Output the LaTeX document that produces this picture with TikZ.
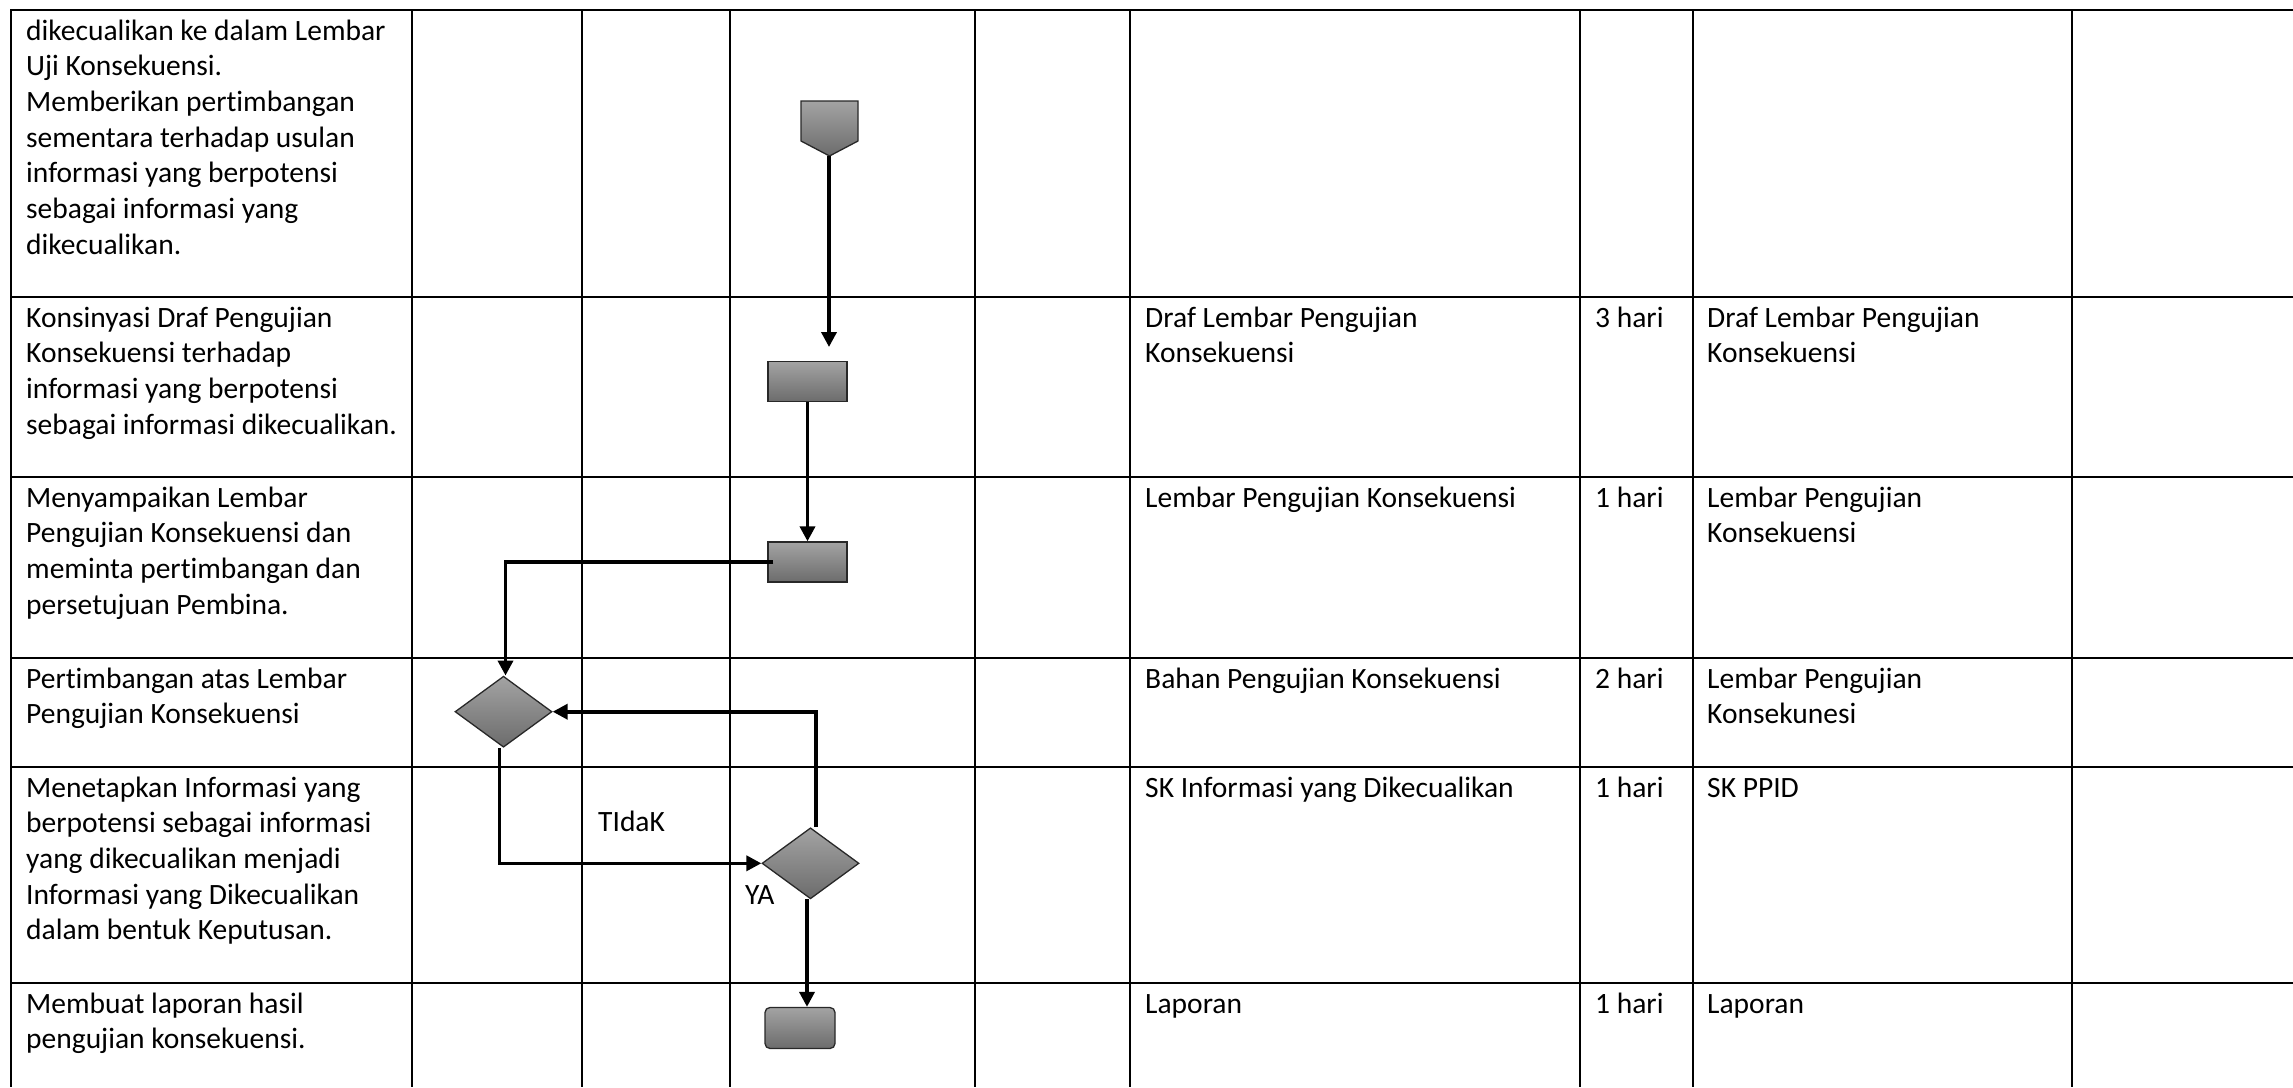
\documentclass[tikz,border=0pt]{standalone}
\usepackage{fontspec}
\setmainfont{Carlito}[Ligatures={NoCommon}]
\usetikzlibrary{shapes.geometric,arrows.meta}
\definecolor{shtop}{RGB}{163,163,163}
\definecolor{shbot}{RGB}{108,108,108}
\definecolor{shedge}{RGB}{40,40,40}
\newcommand{\celltext}[1]{\parbox[t]{700pt}{\fontsize{29.5}{35.7}\selectfont\raggedright #1}}
\begin{document}
\begin{tikzpicture}[x=1pt,y=-1pt,
  gridline/.style={line width=2.3pt,black},
  conn/.style={line width=3.6pt,black,-{Triangle[length=15pt,width=15pt]}},
  shp/.style={draw=shedge,line width=1.3pt,top color=shtop,bottom color=shbot,inner sep=0pt},
  proc/.style={shp,rectangle,minimum width=79pt,minimum height=40pt},
  dec/.style={shp,diamond,minimum width=97pt,minimum height=71pt},
  term/.style={shp,rectangle,rounded corners=5pt,minimum width=70pt,minimum height=41pt},
  cell/.style={anchor=base west,inner sep=0pt},
  lbl/.style={anchor=base west,inner sep=0pt,font=\fontsize{29.5}{35.7}\selectfont},
  ]
\useasboundingbox (0,0) rectangle (2293,1087);
\fill[white] (0,0) rectangle (2293,1087);
% grid
\foreach \yy in {10,297,477,658,767,983}
  \draw[gridline] (10,\yy) -- (2293,\yy);
\foreach \xx in {11,412,582,730,975,1130,1580,1693,2072}
  \draw[gridline] (\xx,9) -- (\xx,1087);

% shapes
\path[shp] (801,101) -- (858,101) -- (858,141) -- (829.5,156) -- (801,141) -- cycle;
\coordinate (pentpt) at (829,156);
\coordinate (a1end) at (829,347);
\node[proc] (r1) at (807.5,381.5) {};
\node[proc] (r2) at (807.5,562) {};
\node[dec] (d1) at (503.5,711.7) {};
\node[dec] (d2) at (810.5,863.3) {};
\node[term] (rr) at (800,1028) {};

% connectors
\draw[conn] (pentpt) -- (a1end);
\draw[conn] (r1.south) -- (r2.north);
\draw[conn] ([xshift=6pt]r2.west) -| ([xshift=2pt]d1.north);
\draw[conn] ([xshift=-4pt]d1.south) |- (d2.west);
\draw[conn] ([xshift=5.5pt]d2.north) |- (d1.east);
\draw[conn] ([xshift=-3.5pt]d2.south) -- ([xshift=-3.5pt]d2.south |- rr.north);

\node[lbl] (tidak) at (598,831.7) {TIdaK};
\node[lbl] (ya) at (745,904) {YA};

% column 1
\node[cell] (c1r1) at (26,40) {\celltext{dikecualikan ke dalam Lembar\\Uji Konsekuensi.\\Memberikan pertimbangan\\sementara terhadap usulan\\informasi yang berpotensi\\sebagai informasi yang\\dikecualikan.}};
\node[cell] (c1r2) at (26,327) {\celltext{Konsinyasi Draf Pengujian\\Konsekuensi terhadap\\informasi yang berpotensi\\sebagai informasi dikecualikan.}};
\node[cell] (c1r3) at (26,507) {\celltext{Menyampaikan Lembar\\Pengujian Konsekuensi dan\\meminta pertimbangan dan\\persetujuan Pembina.}};
\node[cell] (c1r4) at (26,688) {\celltext{Pertimbangan atas Lembar\\Pengujian Konsekuensi}};
\node[cell] (c1r5) at (26,797) {\celltext{Menetapkan Informasi yang\\berpotensi sebagai informasi\\yang dikecualikan menjadi\\Informasi yang Dikecualikan\\dalam bentuk Keputusan.}};
\node[cell] (c1r6) at (26,1013) {\celltext{Membuat laporan hasil\\pengujian konsekuensi.}};

% column 6
\node[cell] (c6r2) at (1145,327) {\celltext{Draf Lembar Pengujian\\Konsekuensi}};
\node[cell] (c6r3) at (1145,507) {\celltext{Lembar Pengujian Konsekuensi}};
\node[cell] (c6r4) at (1145,688) {\celltext{Bahan Pengujian Konsekuensi}};
\node[cell] (c6r5) at (1145,797) {\celltext{SK Informasi yang Dikecualikan}};
\node[cell] (c6r6) at (1145,1013) {\celltext{Laporan}};

% column 7
\node[cell] (c7r2) at (1595,327) {\celltext{3 hari}};
\node[cell] (c7r3) at (1595,507) {\celltext{1 hari}};
\node[cell] (c7r4) at (1595,688) {\celltext{2 hari}};
\node[cell] (c7r5) at (1595,797) {\celltext{1 hari}};
\node[cell] (c7r6) at (1595,1013) {\celltext{1 hari}};

% column 8
\node[cell] (c8r2) at (1707,327) {\celltext{Draf Lembar Pengujian\\Konsekuensi}};
\node[cell] (c8r3) at (1707,507) {\celltext{Lembar Pengujian\\Konsekuensi}};
\node[cell] (c8r4) at (1707,688) {\celltext{Lembar Pengujian\\Konsekunesi}};
\node[cell] (c8r5) at (1707,797) {\celltext{SK PPID}};
\node[cell] (c8r6) at (1707,1013) {\celltext{Laporan}};
\end{tikzpicture}
\end{document}
